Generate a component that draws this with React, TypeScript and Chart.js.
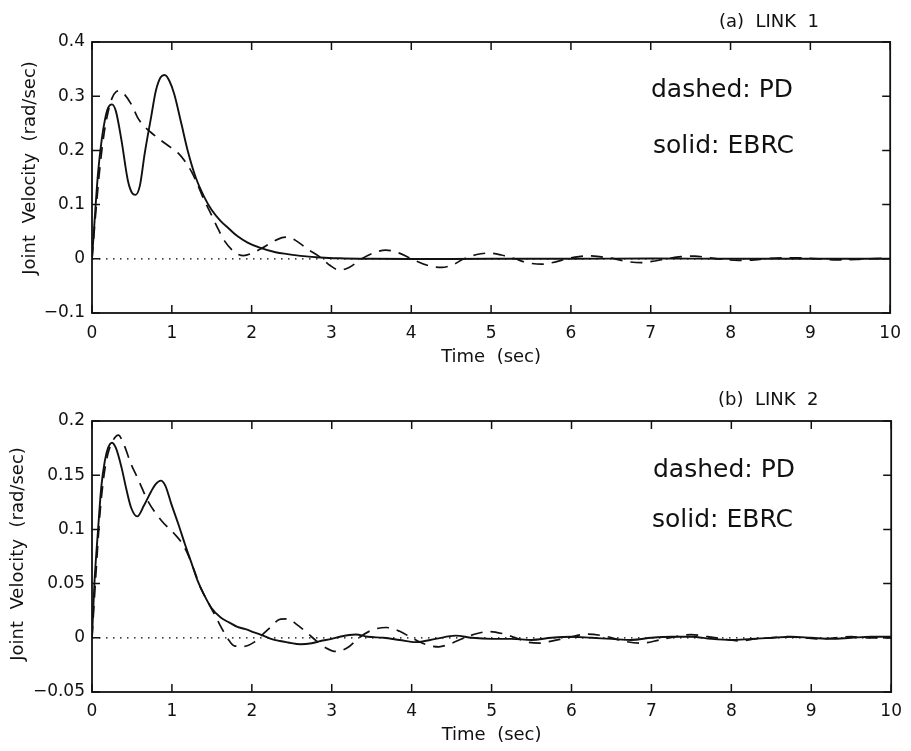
import React, { useEffect, useRef } from "react";
import { Chart, registerables } from "chart.js";

Chart.register(...registerables);

// ---------- data ----------
const timeTicks = [0, 1, 2, 3, 4, 5, 6, 7, 8, 9, 10];
const link1VelTicks = [-0.1, 0, 0.1, 0.2, 0.3, 0.4];
const link2VelTicks = [-0.05, 0, 0.05, 0.1, 0.15, 0.2];

const xAxisTitle = "Time  (sec)";
const yAxisTitle = "Joint  Velocity  (rad/sec)";
const link1Title = "(a)  LINK  1";
const link2Title = "(b)  LINK  2";
const dashedLabel = "dashed: PD";
const solidLabel = "solid: EBRC";

// Link 1, solid: EBRC
const link1EbrcTime = [0, 0.03, 0.075, 0.12, 0.16, 0.2, 0.25, 0.3, 0.37, 0.45, 0.5, 0.545, 0.6, 0.66, 0.74, 0.8, 0.86, 0.91, 0.97, 1.03, 1.12, 1.2, 1.3, 1.41, 1.5, 1.61, 1.72, 1.82, 1.95, 2.11, 2.3, 2.45, 2.65, 2.86, 3.1, 3.5, 4, 5, 6, 7, 8, 9, 10];
const link1EbrcVel = [0, 0.065, 0.157, 0.218, 0.255, 0.278, 0.285, 0.272, 0.218, 0.144, 0.122, 0.118, 0.135, 0.194, 0.261, 0.31, 0.335, 0.339, 0.328, 0.304, 0.249, 0.199, 0.15, 0.113, 0.09, 0.07, 0.055, 0.042, 0.03, 0.02, 0.012, 0.0087, 0.005, 0.0025, 0.001, 0, -0.0005, 0, 0, 0.0005, 0, 0, 0];

// Link 1, dashed: PD
const link1PdTime = [0, 0.05, 0.1, 0.15, 0.2, 0.25, 0.3, 0.35, 0.41, 0.5, 0.57, 0.65, 0.74, 0.85, 0.99, 1.08, 1.16, 1.25, 1.32, 1.4, 1.49, 1.58, 1.66, 1.75, 1.82, 1.9, 2.0, 2.11, 2.25, 2.38, 2.45, 2.55, 2.7, 2.86, 2.98, 3.1, 3.22, 3.38, 3.53, 3.68, 3.84, 4.0, 4.2, 4.38, 4.52, 4.66, 4.82, 4.97, 5.13, 5.3, 5.45, 5.63, 5.8, 5.95, 6.1, 6.25, 6.4, 6.55, 6.7, 6.88, 7.05, 7.2, 7.38, 7.55, 7.72, 7.9, 8.1, 8.3, 8.5, 8.7, 8.9, 9.1, 9.35, 9.6, 9.8, 10];
const link1PdVel = [0, 0.09, 0.17, 0.23, 0.27, 0.296, 0.308, 0.31, 0.303, 0.283, 0.261, 0.245, 0.233, 0.22, 0.205, 0.195, 0.181, 0.16, 0.138, 0.11, 0.083, 0.055, 0.033, 0.017, 0.009, 0.006, 0.01, 0.018, 0.03, 0.039, 0.04, 0.034, 0.018, 0.003, -0.012, -0.021, -0.016, 0, 0.011, 0.016, 0.011, 0, -0.012, -0.016, -0.011, 0, 0.008, 0.0105, 0.007, 0, -0.007, -0.01, -0.006, 0, 0.004, 0.0055, 0.003, 0, -0.005, -0.007, -0.004, 0, 0.004, 0.005, 0.002, -0.001, -0.003, -0.002, 0.001, 0.002, 0.0015, 0, -0.002, -0.001, 0.0005, 0.001];

// Link 2, solid: EBRC
const link2EbrcTime = [0, 0.03, 0.075, 0.116, 0.16, 0.2, 0.25, 0.3, 0.37, 0.43, 0.49, 0.566, 0.65, 0.74, 0.8, 0.86, 0.92, 0.99, 1.08, 1.16, 1.24, 1.32, 1.4, 1.49, 1.61, 1.72, 1.82, 1.92, 2.03, 2.14, 2.24, 2.35, 2.45, 2.61, 2.75, 2.86, 3.0, 3.1, 3.3, 3.45, 3.65, 3.85, 4.05, 4.3, 4.55, 4.75, 5.0, 5.25, 5.5, 5.75, 6.0, 6.25, 6.5, 6.75, 7.0, 7.25, 7.5, 7.75, 8.0, 8.25, 8.5, 8.75, 9.0, 9.25, 9.5, 9.75, 10];
const link2EbrcVel = [0, 0.05, 0.099, 0.139, 0.163, 0.175, 0.18, 0.175, 0.157, 0.137, 0.12, 0.112, 0.122, 0.135, 0.142, 0.145, 0.14, 0.124, 0.105, 0.087, 0.07, 0.053, 0.04, 0.028, 0.0187, 0.014, 0.01, 0.008, 0.005, 0.002, -0.001, -0.003, -0.0043, -0.006, -0.005, -0.003, -0.001, 0.001, 0.003, 0.001, 0, -0.002, -0.004, -0.001, 0.002, 0, -0.001, -0.001, -0.002, 0, 0.001, 0, -0.001, -0.002, 0, 0.001, 0.001, -0.001, -0.002, -0.001, 0, 0.001, 0, -0.001, 0, 0.001, 0.001];

// Link 2, dashed: PD
const link2PdTime = [0, 0.05, 0.1, 0.15, 0.2, 0.27, 0.33, 0.4, 0.49, 0.56, 0.62, 0.7, 0.87, 1.03, 1.12, 1.2, 1.28, 1.36, 1.45, 1.53, 1.6, 1.66, 1.72, 1.78, 1.9, 2.03, 2.12, 2.2, 2.36, 2.45, 2.56, 2.7, 2.81, 2.92, 3.05, 3.2, 3.34, 3.5, 3.68, 3.85, 4.0, 4.17, 4.34, 4.5, 4.66, 4.82, 4.97, 5.13, 5.3, 5.45, 5.6, 5.75, 5.95, 6.2, 6.45, 6.65, 6.87, 7.1, 7.3, 7.5, 7.7, 7.9, 8.1, 8.3, 8.5, 8.7, 8.9, 9.1, 9.3, 9.5, 9.7, 10];
const link2PdVel = [0, 0.06, 0.115, 0.15, 0.17, 0.183, 0.187, 0.178, 0.16, 0.149, 0.139, 0.126, 0.108, 0.096, 0.088, 0.077, 0.062, 0.046, 0.033, 0.022, 0.012, 0.004, -0.003, -0.0074, -0.008, -0.004, 0.002, 0.0075, 0.0172, 0.0175, 0.0124, 0.004, -0.003, -0.009, -0.0126, -0.009, 0, 0.007, 0.0095, 0.006, 0, -0.006, -0.0083, -0.005, 0, 0.004, 0.0058, 0.004, 0, -0.004, -0.005, -0.003, 0, 0.0034, 0.001, -0.003, -0.005, -0.002, 0.001, 0.003, 0.001, -0.001, -0.003, -0.001, 0, 0.001, 0, -0.001, 0, 0.001, 0, 0];

// ---------- helpers ----------
const FONT = "'DejaVu Sans', 'Liberation Sans', sans-serif";
const INK = "#111";

const toPoints = (t: number[], v: number[]) => t.map((x, i) => ({ x, y: v[i] }));

const fmtTick = (v: number) => {
  const r = Math.round(v * 1000) / 1000;
  if (r === 0) return "0";
  return (r < 0 ? "\u2212" : "") + String(Math.abs(r));
};

type PanelProps = {
  top: number;
  height: number;
  areaTop: number;
  xAxisHeight: number;
  yTicks: number[];
  ebrcTime: number[];
  ebrcVel: number[];
  pdTime: number[];
  pdVel: number[];
  title: string;
  titleX: number;
  titleBase: number;
  dashedX: number;
  dashedBase: number;
  solidX: number;
  solidBase: number;
  yTitleX: number;
  yTitleY: number;
  xTickPad: number;
  xTitlePad: number;
};

function Panel(p: PanelProps) {
  const ref = useRef<HTMLCanvasElement | null>(null);

  useEffect(() => {
    const canvas = ref.current;
    if (!canvas) return;

    const decor = {
      id: "decor",
      afterDatasetsDraw(chart: any) {
        const { ctx, chartArea } = chart;
        const { left, right, top, bottom } = chartArea;
        const xs = chart.scales.x;
        const ys = chart.scales.y;
        ctx.save();
        ctx.strokeStyle = INK;
        ctx.lineWidth = 1.8;
        ctx.strokeRect(left, top, right - left, bottom - top);
        ctx.lineWidth = 1.5;
        const tl = 8;
        ctx.beginPath();
        timeTicks.forEach((t) => {
          const x = xs.getPixelForValue(t);
          ctx.moveTo(x, bottom);
          ctx.lineTo(x, bottom - tl);
          ctx.moveTo(x, top);
          ctx.lineTo(x, top + tl);
        });
        p.yTicks.forEach((v) => {
          const y = ys.getPixelForValue(v);
          ctx.moveTo(left, y);
          ctx.lineTo(left + tl, y);
          ctx.moveTo(right, y);
          ctx.lineTo(right - tl, y);
        });
        ctx.stroke();
        ctx.restore();
      },
      afterDraw(chart: any) {
        const { ctx } = chart;
        ctx.save();
        ctx.fillStyle = INK;
        ctx.textBaseline = "alphabetic";
        ctx.textAlign = "left";
        ctx.font = `18px ${FONT}`;
        ctx.fillText(p.title, p.titleX, p.titleBase);
        ctx.font = `25px ${FONT}`;
        ctx.fillText(dashedLabel, p.dashedX, p.dashedBase);
        ctx.fillText(solidLabel, p.solidX, p.solidBase);
        ctx.font = `18px ${FONT}`;
        ctx.translate(p.yTitleX, p.yTitleY);
        ctx.rotate(-Math.PI / 2);
        ctx.textAlign = "center";
        ctx.fillText(yAxisTitle, 0, 0);
        ctx.restore();
      },
    };

    const chart = new Chart(canvas, {
      type: "scatter",
      data: {
        datasets: [
          {
            label: "EBRC",
            data: toPoints(p.ebrcTime, p.ebrcVel),
            showLine: true,
            borderColor: INK,
            borderWidth: 1.9,
            pointRadius: 0,
            cubicInterpolationMode: "monotone",
            fill: false,
          },
          {
            label: "PD",
            data: toPoints(p.pdTime, p.pdVel),
            showLine: true,
            borderColor: INK,
            borderWidth: 1.7,
            borderDash: [12, 8],
            pointRadius: 0,
            cubicInterpolationMode: "monotone",
            fill: false,
          },
          {
            label: "zero",
            data: [
              { x: timeTicks[0], y: 0 },
              { x: timeTicks[timeTicks.length - 1], y: 0 },
            ],
            showLine: true,
            borderColor: "#000",
            borderWidth: 1.2,
            borderDash: [1.5, 5.5],
            pointRadius: 0,
            fill: false,
          },
        ],
      },
      options: {
        responsive: false,
        animation: false,
        events: [],
        layout: { padding: { top: p.areaTop, right: 18, left: 0, bottom: 0 } },
        plugins: {
          legend: { display: false },
          tooltip: { enabled: false },
          title: { display: false },
        },
        scales: {
          x: {
            type: "linear",
            position: "bottom",
            min: timeTicks[0],
            max: timeTicks[timeTicks.length - 1],
            grid: { display: false, drawTicks: false },
            border: { display: false },
            afterBuildTicks: (s: any) => {
              s.ticks = timeTicks.map((v) => ({ value: v }));
            },
            afterFit: (s: any) => {
              s.height = p.xAxisHeight;
            },
            ticks: {
              color: INK,
              font: { family: FONT, size: 17 },
              padding: p.xTickPad,
              maxRotation: 0,
              autoSkip: false,
              callback: (v: any) => fmtTick(Number(v)),
            },
            title: {
              display: true,
              text: xAxisTitle,
              color: INK,
              font: { family: FONT, size: 18 },
              padding: { top: 0, bottom: p.xTitlePad },
            },
          },
          y: {
            type: "linear",
            position: "left",
            min: p.yTicks[0],
            max: p.yTicks[p.yTicks.length - 1],
            grid: { display: false, drawTicks: false },
            border: { display: false },
            afterBuildTicks: (s: any) => {
              s.ticks = p.yTicks.map((v) => ({ value: v }));
            },
            afterFit: (s: any) => {
              s.width = 92;
            },
            ticks: {
              color: INK,
              font: { family: FONT, size: 17 },
              padding: 7,
              autoSkip: false,
              callback: (v: any) => fmtTick(Number(v)),
            },
          },
        },
      } as any,
      plugins: [decor],
    });

    return () => chart.destroy();
  }, []);

  return (
    <canvas
      ref={ref}
      width={911}
      height={p.height}
      style={{ position: "absolute", left: 0, top: p.top, width: 911, height: p.height }}
    />
  );
}

export default function App() {
  return (
    <div
      style={{
        position: "absolute",
        left: 0,
        top: 0,
        width: 911,
        height: 751,
        background: "#fff",
        overflow: "hidden",
      }}
    >
      <Panel
        top={0}
        height={375}
        areaTop={42}
        xAxisHeight={62}
        yTicks={link1VelTicks}
        ebrcTime={link1EbrcTime}
        ebrcVel={link1EbrcVel}
        pdTime={link1PdTime}
        pdVel={link1PdVel}
        title={link1Title}
        titleX={719}
        titleBase={27}
        dashedX={651}
        dashedBase={97}
        solidX={653}
        solidBase={153}
        yTitleX={35}
        yTitleY={168}
        xTickPad={10}
        xTitlePad={7}
      />
      <Panel
        top={375}
        height={376}
        areaTop={46}
        xAxisHeight={59}
        yTicks={link2VelTicks}
        ebrcTime={link2EbrcTime}
        ebrcVel={link2EbrcVel}
        pdTime={link2PdTime}
        pdVel={link2PdVel}
        title={link2Title}
        titleX={718}
        titleBase={30}
        dashedX={653}
        dashedBase={102}
        solidX={652}
        solidBase={152}
        yTitleX={23}
        yTitleY={179}
        xTickPad={9}
        xTitlePad={5}
      />
    </div>
  );
}
